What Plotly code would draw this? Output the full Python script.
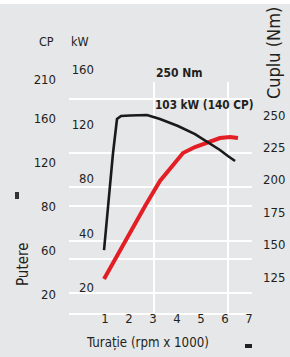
import plotly.graph_objects as go

# ---- data ----
rpm_torque = [0.96, 1.33, 1.5, 1.67, 2.04, 2.75, 3.29, 4.04, 4.75, 5.29, 5.79, 6.12, 6.42]
torque_nm = [145.8, 219.9, 246.9, 249.2, 249.6, 250.0, 246.9, 241.5, 235.3, 229.2, 223.0, 218.4, 214.5]

rpm_power = [0.96, 1.83, 2.67, 3.29, 3.79, 4.25, 4.75, 5.29, 5.79, 6.21, 6.54]
power_kw = [6.2, 34.1, 59.8, 78.2, 89.2, 98.7, 103.1, 106.8, 109.7, 110.5, 109.7]

x_ticks = [1, 2, 3, 4, 5, 6, 7]
kw_tickvals = [160, 120, 80, 40, 0]
kw_ticktext = ["160", "120", "80", "40", "20"]
cp_tickvals = [195, 160, 120, 80, 40, 0]
cp_ticktext = ["210", "160", "120", "80", "60", "20"]
nm_ticks = [125, 150, 175, 200, 225, 250]

FONT = "Liberation Sans Narrow, DejaVu Sans Condensed, Liberation Sans, sans-serif"
TXT = "#231f20"
BG = "#e6e7e8"
GRID = "#ffffff"

W, H = 290, 357
L, R, T, B = 69, 38, 30, 44
PW, PH = W - L - R, H - T - B
XR = [-0.5, 7.125]
KWR = [-18.7, 189.0]


def px_x(px):
    return (px - L) / PW


def px_y(py):
    return (H - B - py) / PH


def x_at(px):
    return XR[0] + px_x(px) * (XR[1] - XR[0])


def kw_at(py):
    return KWR[0] + px_y(py) * (KWR[1] - KWR[0])


fig = go.Figure()

# background grid (white lines), drawn first so the curves sit on top
gx, gy = [], []
for hy in [99, 153, 206, 259, 187, 241, 293]:
    gx += [XR[0], XR[1], None]
    gy += [kw_at(hy), kw_at(hy), None]
for vx in [154, 228]:
    gx += [x_at(vx), x_at(vx), None]
    gy += [KWR[0], kw_at(82), None]
fig.add_trace(go.Scatter(x=gx, y=gy, mode="lines", yaxis="y", hoverinfo="skip",
                         line=dict(color=GRID, width=2), connectgaps=False))

fig.add_trace(go.Scatter(x=rpm_power, y=power_kw, mode="lines", yaxis="y",
                         line=dict(color="#e31e24", width=4), hoverinfo="skip"))
fig.add_trace(go.Scatter(x=rpm_torque, y=torque_nm, mode="lines", yaxis="y3",
                         line=dict(color="#1a1a1a", width=2.6), hoverinfo="skip"))
fig.add_trace(go.Scatter(x=[None], y=[None], yaxis="y2", showlegend=False, hoverinfo="skip"))

shapes = []
# white strip at top
shapes.append(dict(type="rect", xref="paper", yref="paper", x0=px_x(0), x1=px_x(290),
                   y0=px_y(4), y1=px_y(0), fillcolor="white", line=dict(width=0)))
# small dark marks
shapes.append(dict(type="rect", xref="paper", yref="paper", x0=px_x(245), x1=px_x(252),
                   y0=px_y(348), y1=px_y(344), fillcolor="#222", line=dict(width=0)))
shapes.append(dict(type="rect", xref="paper", yref="paper", x0=px_x(15), x1=px_x(19),
                   y0=px_y(199), y1=px_y(192), fillcolor="#333", line=dict(width=0)))

ann = [
    dict(text="CP", x=px_x(46), y=px_y(42), size=12.5),
    dict(text="kW", x=px_x(80), y=px_y(42), size=12.5),
    dict(text="<b>250 Nm</b>", x=px_x(154), y=px_y(73), size=12, xanchor="left"),
    dict(text="<b>103 kW (140 CP)</b>", x=px_x(153), y=px_y(105), size=11.7, xanchor="left"),
    dict(text="Putere", x=px_x(23), y=px_y(264), size=15, angle=-90),
    dict(text="Cuplu (Nm)", x=px_x(273), y=px_y(53), size=18, angle=-90),
    dict(text="Turație (rpm x 1000)", x=px_x(84), y=px_y(343), size=13.2, xanchor="left"),
]
annotations = []
for a in ann:
    annotations.append(dict(text=a["text"], x=a["x"], y=a["y"], xref="paper", yref="paper",
                            showarrow=False, xanchor=a.get("xanchor", "center"), yanchor="middle",
                            textangle=a.get("angle", 0),
                            font=dict(family=FONT, size=a["size"], color=TXT)))

tickfont = dict(family=FONT, size=13, color=TXT)
fig.update_layout(
    width=W, height=H, margin=dict(l=L, r=R, t=T, b=B, pad=0, autoexpand=False),
    paper_bgcolor=BG, plot_bgcolor="rgba(0,0,0,0)", showlegend=False,
    xaxis=dict(range=XR, tickvals=x_ticks, showgrid=False, zeroline=False, automargin=False,
               showline=True, linecolor="white", linewidth=2, ticks="", tickfont=tickfont,
               ticklabelstandoff=-8, fixedrange=True),
    yaxis=dict(range=KWR, tickvals=kw_tickvals, ticktext=kw_ticktext, automargin=False,
               anchor="free", position=px_x(94), side="left", showgrid=False, zeroline=False,
               showline=False, ticks="", tickfont=tickfont, fixedrange=True),
    yaxis2=dict(range=[-17.3, 240], tickvals=cp_tickvals, ticktext=cp_ticktext,
                overlaying="y", anchor="free", position=0, side="left", showgrid=False,
                zeroline=False, showline=False, ticks="", tickfont=tickfont, automargin=False,
                ticklabelstandoff=13, fixedrange=True),
    yaxis3=dict(range=[97.2, 315.6], tickvals=nm_ticks, overlaying="y", anchor="x",
                side="right", showgrid=False, zeroline=False, showline=False, ticks="",
                tickfont=tickfont, ticklabelstandoff=10, automargin=False, fixedrange=True),
    shapes=shapes, annotations=annotations,
)

fig.write_html("out.html", config={"displayModeBar": False, "staticPlot": True},
               post_script="document.body.style.margin='0';")
